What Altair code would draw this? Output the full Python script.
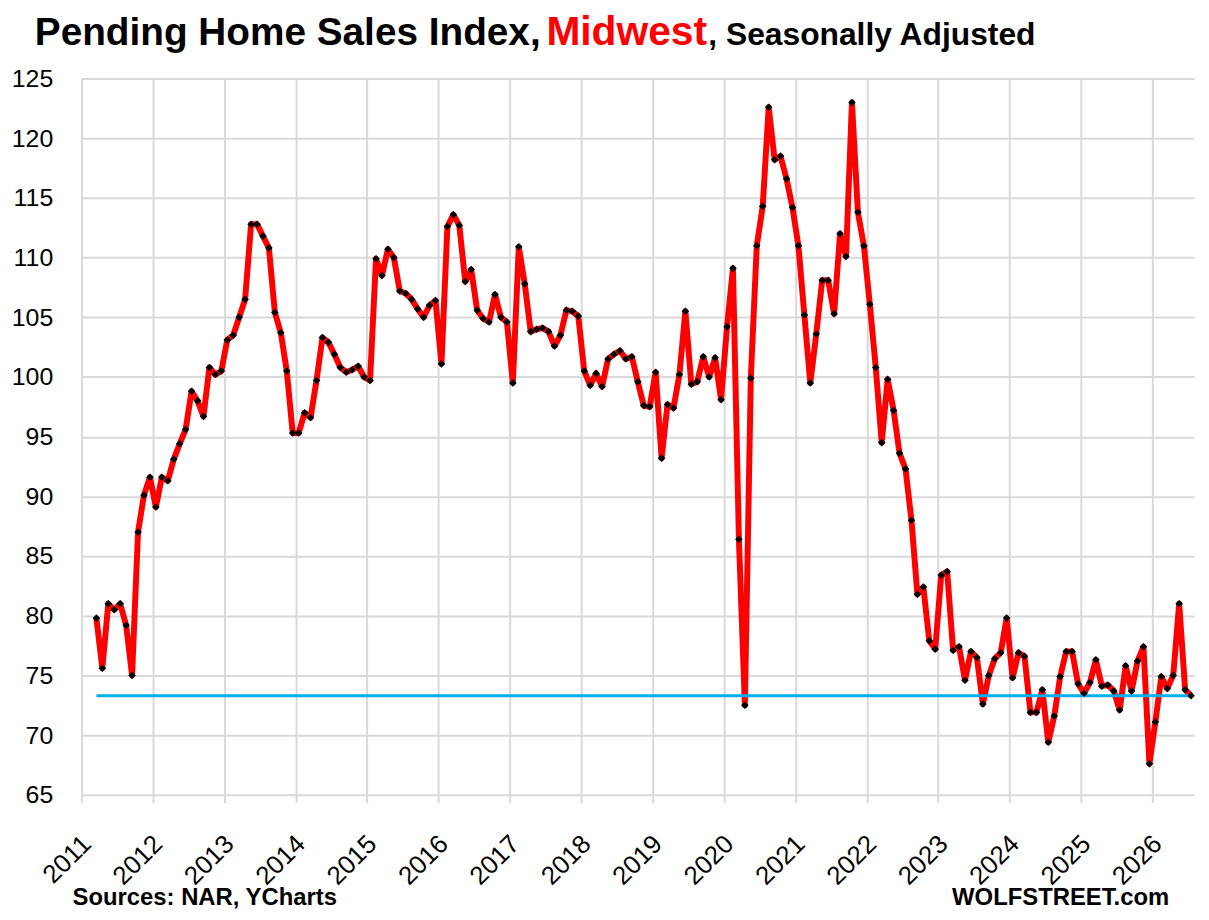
import altair as alt
import pandas as pd

# Pending Home Sales Index, Midwest (SA), monthly, starting March 2011
v2011 = [79.8, 75.6, 81.0, 80.5, 81.0, 79.2, 75.0, 87.0, 90.1, 91.6]  # Mar-Dec
v2012 = [89.1, 91.6, 91.3, 93.1, 94.4, 95.6, 98.8, 98.0, 96.7, 100.8, 100.2, 100.5]
v2013 = [103.1, 103.5, 105.0, 106.5, 112.8, 112.8, 111.8, 110.8, 105.4, 103.7, 100.5, 95.3]
v2014 = [95.3, 97.0, 96.6, 99.7, 103.3, 102.9, 101.9, 100.8, 100.4, 100.6, 100.9, 100.0]
v2015 = [99.7, 109.9, 108.5, 110.7, 110.0, 107.2, 107.0, 106.5, 105.7, 105.0, 106.0, 106.4]
v2016 = [101.1, 112.6, 113.6, 112.7, 108.0, 109.0, 105.6, 104.9, 104.6, 106.9, 105.0, 104.6]
v2017 = [99.5, 110.9, 107.8, 103.8, 104.0, 104.1, 103.8, 102.6, 103.5, 105.6, 105.5, 105.1]
v2018 = [100.5, 99.3, 100.3, 99.2, 101.5, 101.9, 102.2, 101.5, 101.7, 99.6, 97.6, 97.5]
v2019 = [100.4, 93.2, 97.7, 97.4, 100.2, 105.5, 99.4, 99.6, 101.7, 100.0, 101.6, 98.1]
v2020 = [104.2, 109.1, 86.4, 72.5, 99.9, 111.0, 114.3, 122.6, 118.2, 118.5, 116.6, 114.2]
v2021 = [111.0, 105.2, 99.5, 103.6, 108.1, 108.1, 105.3, 112.0, 110.1, 123.0, 113.8, 111.0]
v2022 = [106.1, 100.8, 94.5, 99.8, 97.2, 93.6, 92.3, 88.0, 81.8, 82.4, 77.9, 77.2]
v2023 = [83.4, 83.7, 77.1, 77.4, 74.6, 77.0, 76.5, 72.6, 75.0, 76.4, 76.9, 79.8]
v2024 = [74.8, 76.9, 76.6, 71.9, 71.9, 73.8, 69.4, 71.6, 74.9, 77.0, 77.0, 74.3]
v2025 = [73.5, 74.4, 76.3, 74.1, 74.2, 73.7, 72.1, 75.8, 73.7, 76.2, 77.4, 67.6]
v2026 = [71.1, 74.9, 73.9, 75.0, 81.0, 73.8, 73.3]  # Jan-Jul

year_ticks = list(range(2011, 2027))
y_ticks = list(range(65, 126, 5))

values = (v2011 + v2012 + v2013 + v2014 + v2015 + v2016 + v2017 + v2018 + v2019
          + v2020 + v2021 + v2022 + v2023 + v2024 + v2025 + v2026)
first_month = 2  # March (0-based)
xs = [2011 + (first_month + i + 0.5) / 12 for i in range(len(values))]
df = pd.DataFrame({"t": xs, "v": values})

last_level = values[-1]
df_ref = pd.DataFrame({"t": [xs[0], xs[-1]], "v": [last_level, last_level]})

FONT = "Liberation Sans"
GRID = "#d9d9d9"

x_enc = alt.X(
    "t:Q",
    scale=alt.Scale(domain=[2011, 2026 + 7 / 12], nice=False, zero=False),
    axis=alt.Axis(
        values=year_ticks, format="d", title=None, labelAngle=-45,
        labelAlign="right", labelBaseline="middle", labelFontSize=26,
        labelFont=FONT, labelColor="black", labelPadding=37, labelOffset=5,
        grid=True, gridColor=GRID, gridWidth=2, domain=False,
        ticks=True, tickColor=GRID, tickWidth=2, tickSize=8,
    ),
)
y_enc = alt.Y(
    "v:Q",
    scale=alt.Scale(domain=[65, 125], nice=False, zero=False),
    axis=alt.Axis(
        values=y_ticks, title=None, labelFontSize=25, labelFont=FONT,
        labelColor="black", labelPadding=29, grid=True, gridColor=GRID,
        gridWidth=2, domain=False, ticks=False,
    ),
)

red_line = alt.Chart(df).mark_line(color="#ff0000", strokeWidth=6, strokeJoin="round").encode(x=x_enc, y=y_enc)
blue_line = alt.Chart(df_ref).mark_line(color="#00b0f0", strokeWidth=3).encode(x="t:Q", y="v:Q")
dots = alt.Chart(df).mark_point(shape="diamond", filled=True, color="black", size=58, opacity=1).encode(x="t:Q", y="v:Q")


def label(text, x, y, size, color="black", align="left", bold=True):
    return alt.Chart(pd.DataFrame({"s": [text]})).mark_text(
        align=align, baseline="alphabetic", fontSize=size, font=FONT,
        fontWeight="bold" if bold else "normal", color=color,
    ).encode(text="s:N", x=alt.value(x), y=alt.value(y))


title1 = label("Pending Home Sales Index,", -47, -34, 39)
title2 = label("Midwest", 468, -34, 41, color="#ff0000")
title3 = label(", Seasonally Adjusted", 631, -34, 32)
src = label("Sources: NAR, YCharts", -9, 832, 24)
brand = label("WOLFSTREET.com", 1095, 832, 24, align="right")

chart = alt.layer(red_line, blue_line, dots, title1, title2, title3, src, brand).properties(
    width=1120, height=721,
    autosize=alt.AutoSizeParams(type="none"),
    padding={"left": 74, "top": 68, "right": 7, "bottom": 115},
).configure_view(stroke=None)

chart.save("out.html", embed_options={"renderer": "svg", "actions": False})
